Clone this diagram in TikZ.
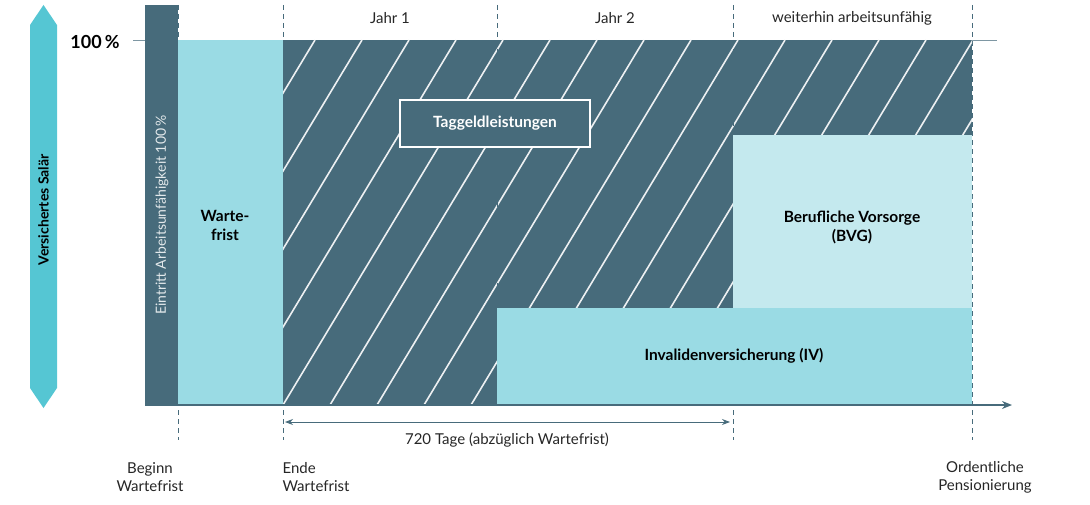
\documentclass[tikz,border=0pt]{standalone}
\usepackage{fontspec}
\setmainfont{Lato}
\usetikzlibrary{arrows.meta}
\definecolor{dk}{HTML}{476B7B}
\definecolor{cy}{HTML}{55C6D3}
\definecolor{lc}{HTML}{9ADBE4}
\definecolor{vl}{HTML}{C4E9EE}
\tikzset{dsh/.style={dk,dashed,dash pattern=on 5pt off 4pt,line width=0.8pt},
lbl/.style={font=\fontsize{15}{18}\selectfont,text=black!85},
bld/.style={font=\bfseries\fontsize{15.5}{19}\selectfont,text=black}}
\begin{document}
\begin{tikzpicture}[x=1pt,y=-1pt]
\useasboundingbox (0,0) rectangle (1090,505);
% left arrow
\fill[cy] (43.5,5) -- (57,25) -- (57,388) -- (43.5,408) -- (30,388) -- (30,25) -- cycle;
\node[rotate=90,font=\bfseries\fontsize{14}{17}\selectfont] (vs) at (43.5,210) {Versichertes Salär};
\node[font=\bfseries\fontsize{18}{20}\selectfont] (hp) at (95,42) {100\,\%};
\draw[dk!70,line width=0.8pt] (133,40) -- (997,40);
% dashed lines
\foreach \x/\b in {178/440,283/440,497/40,733/440,972/440}{\draw[dsh] (\x,5) -- (\x,\b);}
\draw[dsh] (497,405) -- (497,405);
% dark column
\fill[dk] (145,5) rectangle (178,405);
\node[rotate=90,text=white!85!dk,font=\fontsize{14}{17}\selectfont] (ea) at (162,215) {Eintritt Arbeitsunfähigkeit 100\,\%};
% Wartefrist
\fill[lc] (178,40) rectangle (283,405);
\node[bld,align=center] (wf) at (225,225) {Warte-\\frist};
% hatched region
\fill[dk] (283,40) rectangle (972,405);
\begin{scope}
\clip (283,40) rectangle (972,405);
\foreach \k in {-6,...,15}{\draw[white!90!dk,line width=1.6pt] (283+\k*47,405) -- (283+\k*47+220,40);}
\end{scope}
\draw[dsh] (497,40) -- (497,405);
\fill[lc] (497,308) rectangle (972,405);
\fill[vl] (733,135) rectangle (972,308);
\draw[dsh] (733,40) -- (733,135);
\node[bld] (iv) at (734,356) {Invalidenversicherung (IV)};
\node[bld,align=center] (bvg) at (852,227) {Berufliche Vorsorge\\(BVG)};
\node[draw=white,line width=2pt,fill=dk,text=white,font=\bfseries\fontsize{15.5}{19}\selectfont,minimum width=190pt,minimum height=47pt] (tg) at (495,123.5) {Taggeldleistungen};
% axis
\coordinate (a0) at (145,405); \coordinate (a1) at (1012,405);
\draw[dk,line width=2pt,-{Stealth[length=10pt,width=8pt]}] (a0) -- (a1);
\coordinate (t0) at (285,422); \coordinate (t1) at (730,422);
\draw[dk,line width=0.9pt,{Stealth[length=8pt,width=6pt]}-{Stealth[length=8pt,width=6pt]}] (t0) -- (t1);
\node[lbl] (td) at (507,440) {720 Tage (abzüglich Wartefrist)};
\node[lbl] (j1) at (390,18) {Jahr 1};
\node[lbl] (j2) at (615,18) {Jahr 2};
\node[lbl] (wa) at (852,18) {weiterhin arbeitsunfähig};
\node[lbl,align=center] (bw) at (150,477) {Beginn\\Wartefrist};
\node[lbl,align=left,anchor=west] (ew) at (279,477) {Ende\\Wartefrist};
\node[lbl,align=center] (op) at (985,477) {Ordentliche\\Pensionierung};
\end{tikzpicture}
\end{document}
